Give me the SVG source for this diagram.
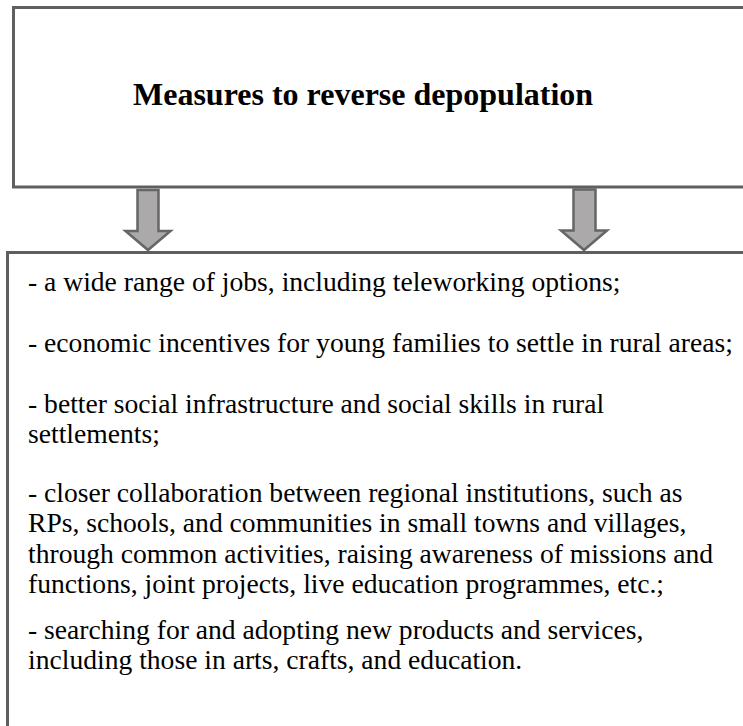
<svg xmlns="http://www.w3.org/2000/svg" width="743" height="726" viewBox="0 0 743 726">
<style>
.box{fill:#ffffff;stroke:#5f5f5f;stroke-width:3}
.arrow{fill:#aba9a9;stroke:#666666;stroke-width:2.5;stroke-linejoin:miter}
text{font-family:'Liberation Serif','DejaVu Serif',serif;fill:#000}
.title{font-size:32px;font-weight:bold}
.body{font-size:27.6px}
</style>
<rect width="743" height="726" fill="#ffffff"/>
<g id="node-title">
<rect class="box" x="13.5" y="7.5" width="740" height="179.5"/>
<text class="title" x="133" y="105" font-family="Liberation Serif, DejaVu Serif, serif">Measures to reverse depopulation</text>
</g>
<g id="node-measures" font-family="Liberation Serif, DejaVu Serif, serif">
<rect class="box" x="7.5" y="252.5" width="745" height="480"/>
<text class="body" x="28" y="291">- a wide range of jobs, including teleworking options;</text>
<text class="body" x="28" y="351.5">- economic incentives for young families to settle in rural areas;</text>
<text class="body" x="28" y="413">- better social infrastructure and social skills in rural</text>
<text class="body" x="28" y="443">settlements;</text>
<text class="body" x="28" y="502">- closer collaboration between regional institutions, such as</text>
<text class="body" x="28" y="532">RPs, schools, and communities in small towns and villages,</text>
<text class="body" x="28" y="562.5">through common activities, raising awareness of missions and</text>
<text class="body" x="28" y="593">functions, joint projects, live education programmes, etc.;</text>
<text class="body" x="28" y="639">- searching for and adopting new products and services,</text>
<text class="body" x="28" y="669">including those in arts, crafts, and education.</text>
</g>
<g id="connectors">
<polygon class="arrow" points="137.5,190 158.5,190 158.5,231 170.5,231 148,250 125.5,231 137.5,231"/>
<polygon class="arrow" points="573.5,189.5 595.5,189.5 595.5,230.5 607,230.5 584,250 561,230.5 573.5,230.5"/>
</g>
</svg>
